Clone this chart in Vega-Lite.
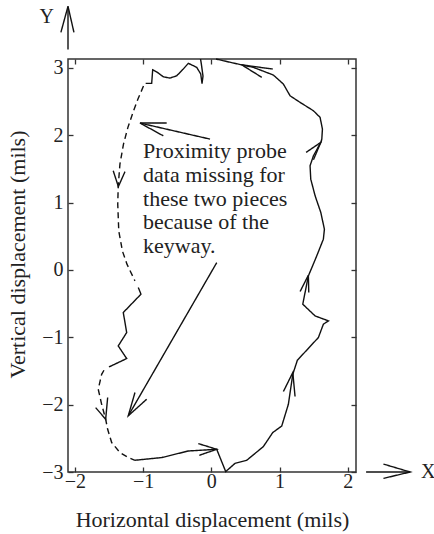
{
  "$schema": "https://vega.github.io/schema/vega-lite/v6.json",
  "width": 288,
  "height": 413,
  "autosize": "none",
  "padding": {"left": 68, "top": 59, "right": 78, "bottom": 62},
  "background": "white",
  "config": {
    "view": {"stroke": "#333333", "strokeWidth": 1.5},
    "font": "Liberation Serif",
    "axis": {
      "domain": false,
      "grid": false,
      "tickColor": "#333333",
      "tickWidth": 1.3,
      "tickSize": -5,
      "labelFont": "Liberation Serif",
      "labelFontSize": 20,
      "labelColor": "#222222",
      "labelFlush": false,
      "labelOverlap": false,
      "titleFont": "Liberation Serif",
      "titleFontSize": 22,
      "titleFontWeight": "normal",
      "titleColor": "#222222"
    }
  },
  "datasets": {
    "paths": [
      {"seg": "R", "dash": "solid", "x": 0.069, "y": 3.13},
      {"seg": "R", "dash": "solid", "x": 0.323, "y": 3.07},
      {"seg": "R", "dash": "solid", "x": 0.616, "y": 3.006},
      {"seg": "R", "dash": "solid", "x": 0.909, "y": 2.892},
      {"seg": "R", "dash": "solid", "x": 1.056, "y": 2.758},
      {"seg": "R", "dash": "solid", "x": 1.154, "y": 2.584},
      {"seg": "R", "dash": "solid", "x": 1.301, "y": 2.486},
      {"seg": "R", "dash": "solid", "x": 1.496, "y": 2.362},
      {"seg": "R", "dash": "solid", "x": 1.594, "y": 2.263},
      {"seg": "R", "dash": "solid", "x": 1.628, "y": 2.09},
      {"seg": "R", "dash": "solid", "x": 1.619, "y": 1.941},
      {"seg": "R", "dash": "solid", "x": 1.604, "y": 1.892},
      {"seg": "R", "dash": "solid", "x": 1.496, "y": 1.693},
      {"seg": "R", "dash": "solid", "x": 1.447, "y": 1.545},
      {"seg": "R", "dash": "solid", "x": 1.457, "y": 1.347},
      {"seg": "R", "dash": "solid", "x": 1.521, "y": 1.099},
      {"seg": "R", "dash": "solid", "x": 1.604, "y": 0.853},
      {"seg": "R", "dash": "solid", "x": 1.657, "y": 0.604},
      {"seg": "R", "dash": "solid", "x": 1.642, "y": 0.456},
      {"seg": "R", "dash": "solid", "x": 1.545, "y": 0.208},
      {"seg": "R", "dash": "solid", "x": 1.476, "y": 0.04},
      {"seg": "R", "dash": "solid", "x": 1.422, "y": -0.089},
      {"seg": "R", "dash": "solid", "x": 1.34, "y": -0.509},
      {"seg": "R", "dash": "solid", "x": 1.52, "y": -0.683},
      {"seg": "R", "dash": "solid", "x": 1.716, "y": -0.757},
      {"seg": "R", "dash": "solid", "x": 1.642, "y": -0.806},
      {"seg": "R", "dash": "solid", "x": 1.569, "y": -1.004},
      {"seg": "R", "dash": "solid", "x": 1.261, "y": -1.341},
      {"seg": "R", "dash": "solid", "x": 1.194, "y": -1.549},
      {"seg": "R", "dash": "solid", "x": 1.129, "y": -1.995},
      {"seg": "R", "dash": "solid", "x": 1.032, "y": -2.317},
      {"seg": "R", "dash": "solid", "x": 0.9, "y": -2.415},
      {"seg": "R", "dash": "solid", "x": 0.762, "y": -2.623},
      {"seg": "R", "dash": "solid", "x": 0.519, "y": -2.826},
      {"seg": "R", "dash": "solid", "x": 0.348, "y": -2.871},
      {"seg": "R", "dash": "solid", "x": 0.211, "y": -2.994},
      {"seg": "R", "dash": "solid", "x": 0.079, "y": -2.663},
      {"seg": "R", "dash": "solid", "x": -0.337, "y": -2.688},
      {"seg": "R", "dash": "solid", "x": -0.727, "y": -2.786},
      {"seg": "R", "dash": "solid", "x": -1.119, "y": -2.826},
      {"seg": "TL", "dash": "solid", "x": -0.158, "y": 3.13},
      {"seg": "TL", "dash": "solid", "x": -0.144, "y": 3.04},
      {"seg": "TL", "dash": "solid", "x": -0.122, "y": 2.877},
      {"seg": "TL", "dash": "solid", "x": -0.136, "y": 2.765},
      {"seg": "TL", "dash": "solid", "x": -0.155, "y": 2.907},
      {"seg": "TL", "dash": "solid", "x": -0.214, "y": 3.006},
      {"seg": "TL", "dash": "solid", "x": -0.337, "y": 3.066},
      {"seg": "TL", "dash": "solid", "x": -0.411, "y": 2.981},
      {"seg": "TL", "dash": "solid", "x": -0.507, "y": 2.881},
      {"seg": "TL", "dash": "solid", "x": -0.606, "y": 2.847},
      {"seg": "TL", "dash": "solid", "x": -0.704, "y": 2.866},
      {"seg": "TL", "dash": "solid", "x": -0.796, "y": 2.936},
      {"seg": "TL", "dash": "solid", "x": -0.859, "y": 2.97},
      {"seg": "TL", "dash": "solid", "x": -0.874, "y": 2.768},
      {"seg": "TL", "dash": "solid", "x": -0.962, "y": 2.768},
      {"seg": "LD1", "dash": "dashed", "x": -0.994, "y": 2.728},
      {"seg": "LD1", "dash": "dashed", "x": -1.075, "y": 2.535},
      {"seg": "LD1", "dash": "dashed", "x": -1.141, "y": 2.357},
      {"seg": "LD1", "dash": "dashed", "x": -1.221, "y": 2.119},
      {"seg": "LD1", "dash": "dashed", "x": -1.287, "y": 1.867},
      {"seg": "LD1", "dash": "dashed", "x": -1.339, "y": 1.57},
      {"seg": "LD1", "dash": "dashed", "x": -1.364, "y": 1.248},
      {"seg": "LD1", "dash": "dashed", "x": -1.371, "y": 0.976},
      {"seg": "LD1", "dash": "dashed", "x": -1.356, "y": 0.575},
      {"seg": "LD1", "dash": "dashed", "x": -1.302, "y": 0.278},
      {"seg": "LD1", "dash": "dashed", "x": -1.236, "y": 0.085},
      {"seg": "LD1", "dash": "dashed", "x": -1.119, "y": -0.163},
      {"seg": "LZ", "dash": "solid", "x": -1.07, "y": -0.261},
      {"seg": "LZ", "dash": "solid", "x": -1.031, "y": -0.361},
      {"seg": "LZ", "dash": "solid", "x": -1.29, "y": -0.633},
      {"seg": "LZ", "dash": "solid", "x": -1.24, "y": -0.93},
      {"seg": "LZ", "dash": "solid", "x": -1.364, "y": -1.129},
      {"seg": "LZ", "dash": "solid", "x": -1.24, "y": -1.316},
      {"seg": "LZ", "dash": "solid", "x": -1.5, "y": -1.441},
      {"seg": "LD2", "dash": "dashed", "x": -1.573, "y": -1.49},
      {"seg": "LD2", "dash": "dashed", "x": -1.607, "y": -1.551},
      {"seg": "LD2", "dash": "dashed", "x": -1.657, "y": -1.772},
      {"seg": "LD2", "dash": "dashed", "x": -1.607, "y": -1.995},
      {"seg": "LD2", "dash": "dashed", "x": -1.548, "y": -2.217},
      {"seg": "LD2", "dash": "dashed", "x": -1.519, "y": -2.366},
      {"seg": "LD2", "dash": "dashed", "x": -1.46, "y": -2.563},
      {"seg": "LD2", "dash": "dashed", "x": -1.339, "y": -2.712},
      {"seg": "LD2", "dash": "dashed", "x": -1.217, "y": -2.786},
      {"seg": "LD2", "dash": "dashed", "x": -1.119, "y": -2.826},
      {"seg": "AH1", "dash": "solid", "x": 0.9, "y": 2.981},
      {"seg": "AH1", "dash": "solid", "x": 0.446, "y": 3.043},
      {"seg": "AH1", "dash": "solid", "x": 0.739, "y": 2.858},
      {"seg": "AH2", "dash": "solid", "x": 1.389, "y": 1.744},
      {"seg": "AH2", "dash": "solid", "x": 1.604, "y": 1.892},
      {"seg": "AH2", "dash": "solid", "x": 1.496, "y": 1.634},
      {"seg": "AH3", "dash": "solid", "x": 1.301, "y": -0.321},
      {"seg": "AH3", "dash": "solid", "x": 1.422, "y": -0.079},
      {"seg": "AH3", "dash": "solid", "x": 1.428, "y": -0.336},
      {"seg": "AH4", "dash": "solid", "x": 1.056, "y": -1.806},
      {"seg": "AH4", "dash": "solid", "x": 1.194, "y": -1.524},
      {"seg": "AH4", "dash": "solid", "x": 1.227, "y": -1.88},
      {"seg": "AH5", "dash": "solid", "x": -0.191, "y": -2.578},
      {"seg": "AH5", "dash": "solid", "x": 0.079, "y": -2.663},
      {"seg": "AH5", "dash": "solid", "x": -0.176, "y": -2.752},
      {"seg": "AH6", "dash": "solid", "x": -1.437, "y": 1.47},
      {"seg": "AH6", "dash": "solid", "x": -1.362, "y": 1.236},
      {"seg": "AH6", "dash": "solid", "x": -1.265, "y": 1.458},
      {"seg": "AH7", "dash": "solid", "x": -1.695, "y": -2.044},
      {"seg": "AH7", "dash": "solid", "x": -1.548, "y": -2.217},
      {"seg": "AH7", "dash": "solid", "x": -1.519, "y": -1.895},
      {"seg": "AN1", "dash": "solid", "x": -0.019, "y": 1.941},
      {"seg": "AN1", "dash": "solid", "x": -1.045, "y": 2.179},
      {"seg": "AN1H", "dash": "solid", "x": -0.654, "y": 2.179},
      {"seg": "AN1H", "dash": "solid", "x": -1.045, "y": 2.179},
      {"seg": "AN1H", "dash": "solid", "x": -0.704, "y": 1.99},
      {"seg": "AN2", "dash": "solid", "x": 0.079, "y": 0.107},
      {"seg": "AN2", "dash": "solid", "x": -1.217, "y": -2.166},
      {"seg": "AN2H", "dash": "solid", "x": -1.119, "y": -1.821},
      {"seg": "AN2H", "dash": "solid", "x": -1.217, "y": -2.166},
      {"seg": "AN2H", "dash": "solid", "x": -0.947, "y": -1.92},
      {"seg": "YA", "dash": "solid", "x": -2.1, "y": 3.27},
      {"seg": "YA", "dash": "solid", "x": -2.1, "y": 3.912},
      {"seg": "YAH", "dash": "solid", "x": -2.204, "y": 3.526},
      {"seg": "YAH", "dash": "solid", "x": -2.1, "y": 3.912},
      {"seg": "YAH", "dash": "solid", "x": -2.013, "y": 3.526},
      {"seg": "XA", "dash": "solid", "x": 2.268, "y": -3.0},
      {"seg": "XA", "dash": "solid", "x": 2.913, "y": -3.0},
      {"seg": "XAH", "dash": "solid", "x": 2.522, "y": -2.882},
      {"seg": "XAH", "dash": "solid", "x": 2.913, "y": -3.0},
      {"seg": "XAH", "dash": "solid", "x": 2.522, "y": -3.095}
    ],
    "note": [
      {"x": -1.0, "y": 1.655, "text": ["Proximity probe", "data missing for", "these two pieces", "because of the", "keyway."]}
    ],
    "letters": [
      {"x": -2.413, "y": 3.749, "text": "Y"},
      {"x": 3.177, "y": -3.0, "text": "X"}
    ]
  },
  "layer": [
    {
      "data": {"name": "paths"},
      "mark": {"type": "line", "stroke": "#111111", "strokeWidth": 1.4, "clip": false},
      "encoding": {
        "x": {
          "field": "x", "type": "quantitative",
          "scale": {"domain": [-2.1, 2.12], "nice": false, "zero": false},
          "axis": {
            "orient": "bottom",
            "values": [-2, -1, 0, 1, 2],
            "labelPadding": 4,
            "title": "Horizontal displacement (mils)",
            "titleBaseline": "alphabetic",
            "titleY": 54.4
          }
        },
        "y": {
          "field": "y", "type": "quantitative",
          "scale": {"domain": [-3, 3.13], "nice": false, "zero": false},
          "axis": {
            "orient": "left",
            "values": [-3, -2, -1, 0, 1, 2, 3],
            "labelPadding": 10,
            "title": "Vertical displacement (mils)",
            "titleBaseline": "alphabetic",
            "titleX": -44,
            "titleY": 195
          }
        },
        "detail": {"field": "seg", "type": "nominal"},
        "order": {"value": null},
        "strokeDash": {
          "field": "dash", "type": "nominal",
          "scale": {"domain": ["solid", "dashed"], "range": [[1, 0], [6, 4]]},
          "legend": null
        }
      }
    },
    {
      "data": {"name": "note"},
      "mark": {"type": "text", "align": "left", "baseline": "alphabetic", "fontSize": 22, "lineHeight": 23.7, "font": "Liberation Serif", "color": "#222222"},
      "encoding": {
        "x": {"field": "x", "type": "quantitative", "axis": {"orient": "top", "values": [-2, -1, 0, 1, 2], "labels": false, "title": null}},
        "y": {"field": "y", "type": "quantitative", "axis": {"orient": "right", "values": [-3, -2, -1, 0, 1, 2, 3], "labels": false, "title": null}},
        "text": {"field": "text", "type": "nominal"}
      }
    },
    {
      "data": {"name": "letters"},
      "mark": {"type": "text", "align": "center", "baseline": "middle", "fontSize": 20, "font": "Liberation Serif", "color": "#222222"},
      "encoding": {
        "x": {"field": "x", "type": "quantitative", "axis": null},
        "y": {"field": "y", "type": "quantitative", "axis": null},
        "text": {"field": "text", "type": "nominal"}
      }
    }
  ],
  "resolve": {"axis": {"x": "independent", "y": "independent"}}
}
